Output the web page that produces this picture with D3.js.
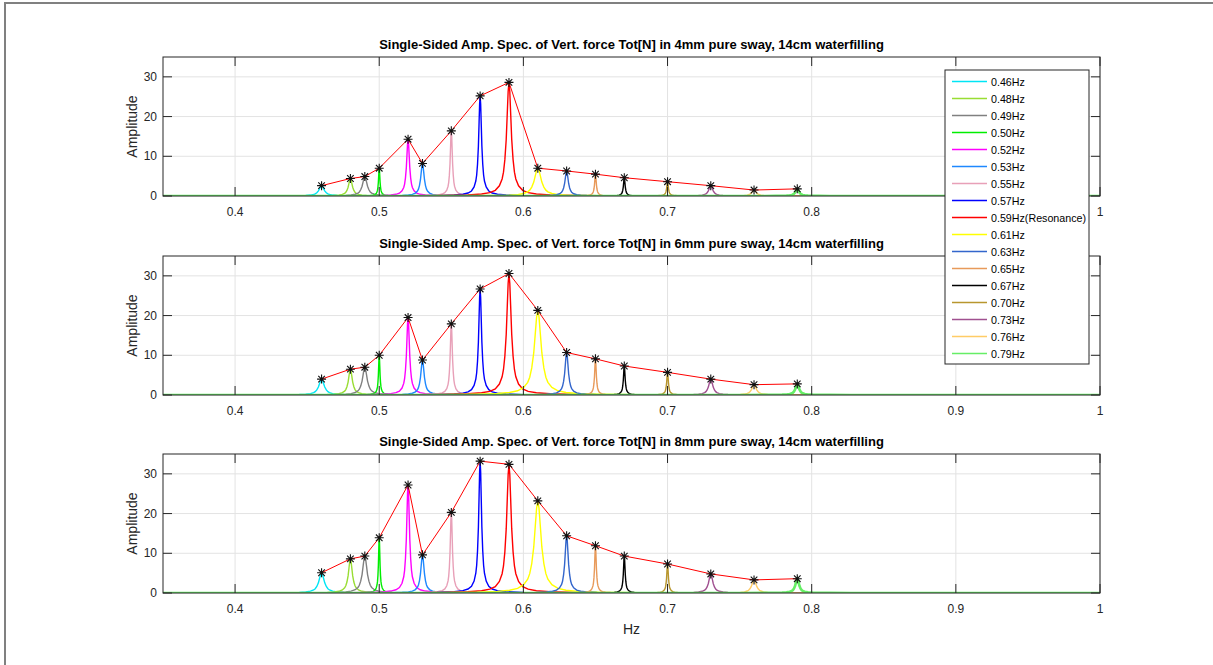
<!DOCTYPE html>
<html>
<head>
<meta charset="utf-8">
<script src="https://cdn.jsdelivr.net/npm/d3@7"></script>
<style>
  body { margin: 0; background: #fff; }
  svg { display: block; font-family: "Liberation Sans", Arial, sans-serif; }
</style>
</head>
<body>
<svg id="chart" width="1213" height="665"></svg>
<script>
// excitation frequencies (one spectrum each)
const freqs = [0.46, 0.48, 0.49, 0.50, 0.52, 0.53, 0.55, 0.57, 0.59, 0.61, 0.63, 0.65, 0.67, 0.70, 0.73, 0.76, 0.79];
const seriesNames = ["0.46Hz", "0.48Hz", "0.49Hz", "0.50Hz", "0.52Hz", "0.53Hz", "0.55Hz", "0.57Hz",
  "0.59Hz(Resonance)", "0.61Hz", "0.63Hz", "0.65Hz", "0.67Hz", "0.70Hz", "0.73Hz", "0.76Hz", "0.79Hz"];
const seriesColors = ["#00e5f5", "#99dd33", "#808080", "#00ee00", "#ff00ff", "#1e88ff", "#e8a0b8", "#0000ff",
  "#ff0000", "#ffff00", "#3366cc", "#e89a5a", "#000000", "#b8962e", "#a05090", "#ffcc66", "#66ee66"];

// peak amplitudes
const amp4mm = [2.6, 4.4, 4.9, 7.0, 14.3, 8.2, 16.4, 25.2, 28.6, 7.0, 6.3, 5.5, 4.6, 3.6, 2.6, 1.5, 1.8];
const amp6mm = [4.0, 6.5, 7.0, 10.0, 19.5, 8.8, 17.9, 26.7, 30.6, 21.3, 10.7, 9.1, 7.3, 5.7, 4.0, 2.6, 2.8];
const amp8mm = [5.1, 8.6, 9.3, 13.9, 27.2, 9.6, 20.3, 33.2, 32.4, 23.2, 14.4, 11.9, 9.3, 7.3, 4.8, 3.3, 3.6];

// half width of each peak (Hz)
const peakWidths = [0.0022, 0.0016, 0.0019, 0.0006, 0.0012, 0.0014, 0.0009, 0.0012, 0.0019, 0.0028, 0.0014, 0.0007, 0.0007, 0.0007, 0.0017, 0.0019, 0.0015];
// shared peak shape: offset (in half widths) and relative height
const profileOffsets = [-40, -25, -15, -10, -7, -5, -3.5, -2.5, -2, -1.5, -1, -0.6, -0.3, 0, 0.3, 0.6, 1, 1.5, 2, 2.5, 3.5, 5, 7, 10, 15, 25, 40];
const profileRel = [0, 0.004, 0.01, 0.018, 0.03, 0.05, 0.09, 0.15, 0.21, 0.32, 0.5, 0.74, 0.92, 1, 0.92, 0.74, 0.5, 0.32, 0.21, 0.15, 0.09, 0.05, 0.03, 0.018, 0.01, 0.004, 0];

const panelTitles = [
  "Single-Sided Amp. Spec. of Vert. force Tot[N] in 4mm pure sway, 14cm waterfilling",
  "Single-Sided Amp. Spec. of Vert. force Tot[N] in 6mm pure sway, 14cm waterfilling",
  "Single-Sided Amp. Spec. of Vert. force Tot[N] in 8mm pure sway, 14cm waterfilling"
];
const panelAmps = [amp4mm, amp6mm, amp8mm];
const xTicks = [0.4, 0.5, 0.6, 0.7, 0.8, 0.9, 1];
const yTicks = [0, 10, 20, 30];
const xDomain = [0.35, 1];
const yDomain = [0, 35];

const svg = d3.select("#chart");

// figure frame
svg.append("path")
  .attr("d", "M5,665 L5,3 L1213,3")
  .attr("fill", "none")
  .attr("stroke", "#808080")
  .attr("stroke-width", 2);

const left = 163, right = 1100;
const tops = [57, 256, 454];
const plotH = 139;
const tickLen = 9;

const x = d3.scaleLinear().domain(xDomain).range([left, right]);

panelTitles.forEach((title, p) => {
  const top = tops[p], bottom = top + plotH;
  const y = d3.scaleLinear().domain(yDomain).range([bottom, top]);
  const g = svg.append("g");

  g.append("rect").attr("x", left).attr("y", top).attr("width", right - left).attr("height", plotH).attr("fill", "#fff");

  // grid
  g.selectAll(".gx").data(xTicks).join("line")
    .attr("x1", d => x(d)).attr("x2", d => x(d)).attr("y1", top).attr("y2", bottom)
    .attr("stroke", "#e3e3e3").attr("stroke-width", 1);
  g.selectAll(".gy").data(yTicks).join("line")
    .attr("x1", left).attr("x2", right).attr("y1", d => y(d)).attr("y2", d => y(d))
    .attr("stroke", "#e3e3e3").attr("stroke-width", 1);

  const clipId = "clip" + p;
  svg.append("clipPath").attr("id", clipId)
    .append("rect").attr("x", left).attr("y", top - 2).attr("width", right - left).attr("height", plotH + 2);

  const plot = g.append("g").attr("clip-path", `url(#${clipId})`);
  const line = d3.line().x(d => x(d[0])).y(d => y(d[1]));
  const amps = panelAmps[p];

  freqs.forEach((f, i) => {
    const pts = [[xDomain[0], 0]];
    profileOffsets.forEach((o, k) => {
      pts.push([f + o * peakWidths[i], amps[i] * profileRel[k]]);
    });
    pts.push([xDomain[1], 0]);
    plot.append("path")
      .attr("d", line(pts))
      .attr("fill", "none")
      .attr("stroke", seriesColors[i])
      .attr("stroke-width", i === freqs.length - 1 ? 2.6 : 1.4);
  });

  // peak envelope
  const peaks = freqs.map((f, i) => [f, amps[i]]);
  plot.append("path")
    .attr("d", line(peaks))
    .attr("fill", "none")
    .attr("stroke", "#ff0000")
    .attr("stroke-width", 1);

  const s = 4.5, sd = 3.3;
  const mk = g.selectAll(".mk").data(peaks).join("g")
    .attr("transform", d => `translate(${x(d[0])},${y(d[1])})`);
  mk.append("path")
    .attr("d", `M${-s},0L${s},0M0,${-s}L0,${s}M${-sd},${-sd}L${sd},${sd}M${-sd},${sd}L${sd},${-sd}`)
    .attr("stroke", "#111").attr("stroke-width", 1.1).attr("fill", "none");

  // box and inward ticks
  g.append("rect").attr("x", left).attr("y", top).attr("width", right - left).attr("height", plotH)
    .attr("fill", "none").attr("stroke", "#262626").attr("stroke-width", 1);
  xTicks.forEach(t => {
    g.append("line").attr("x1", x(t)).attr("x2", x(t)).attr("y1", bottom).attr("y2", bottom - tickLen).attr("stroke", "#262626");
    g.append("line").attr("x1", x(t)).attr("x2", x(t)).attr("y1", top).attr("y2", top + tickLen).attr("stroke", "#262626");
  });
  yTicks.forEach(t => {
    g.append("line").attr("x1", left).attr("x2", left + tickLen).attr("y1", y(t)).attr("y2", y(t)).attr("stroke", "#262626");
    g.append("line").attr("x1", right).attr("x2", right - tickLen).attr("y1", y(t)).attr("y2", y(t)).attr("stroke", "#262626");
  });

  g.selectAll(".xl").data(xTicks).join("text")
    .attr("x", d => x(d)).attr("y", bottom + 20)
    .attr("text-anchor", "middle").attr("font-size", 12).attr("fill", "#262626")
    .text(d => d3.format("~g")(d));
  g.selectAll(".yl").data(yTicks).join("text")
    .attr("x", left - 6).attr("y", d => y(d) + 4)
    .attr("text-anchor", "end").attr("font-size", 12).attr("fill", "#262626")
    .text(d => d);

  g.append("text")
    .attr("transform", `translate(${left - 26},${(top + bottom) / 2}) rotate(-90)`)
    .attr("text-anchor", "middle").attr("font-size", 14).attr("fill", "#262626")
    .text("Amplitude");

  g.append("text")
    .attr("x", (left + right) / 2).attr("y", top - 8)
    .attr("text-anchor", "middle").attr("font-size", 13).attr("font-weight", "bold").attr("fill", "#000")
    .text(title);
});

svg.append("text")
  .attr("x", (left + right) / 2).attr("y", 634)
  .attr("text-anchor", "middle").attr("font-size", 14).attr("fill", "#262626")
  .text("Hz");

// legend
const lg = svg.append("g");
lg.append("rect").attr("x", 945).attr("y", 70).attr("width", 144).attr("height", 294)
  .attr("fill", "#fff").attr("stroke", "#262626").attr("stroke-width", 1);
const rows = lg.selectAll(".row").data(seriesNames).join("g")
  .attr("transform", (d, i) => `translate(0,${81.5 + i * 17})`);
rows.append("line").attr("x1", 952).attr("x2", 987).attr("y1", 0).attr("y2", 0)
  .attr("stroke", (d, i) => seriesColors[i]).attr("stroke-width", 1.3);
rows.append("text").attr("x", 991).attr("y", 4)
  .attr("font-size", 10.7).attr("fill", "#000").text(d => d);
</script>
</body>
</html>
